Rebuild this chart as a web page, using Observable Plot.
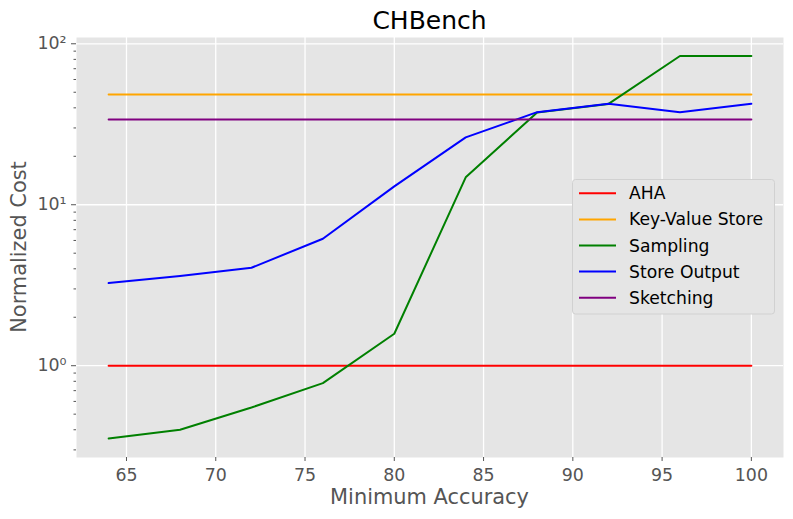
<!DOCTYPE html>
<html>
<head>
<meta charset="utf-8">
<script src="https://cdn.jsdelivr.net/npm/d3@7"></script>
<script src="https://cdn.jsdelivr.net/npm/@observablehq/plot@0.6"></script>
<style>
  html, body { margin: 0; padding: 0; background: white; }
  svg { display: block; }
</style>
</head>
<body>
<div id="chart"></div>
<script>
// ---- data ----
const accuracy = [64, 68, 72, 76, 80, 84, 88, 92, 96, 100];
const aha = [1, 1, 1, 1, 1, 1, 1, 1, 1, 1];
const keyValueStore = [48.4, 48.4, 48.4, 48.4, 48.4, 48.4, 48.4, 48.4, 48.4, 48.4];
const sampling = [0.353, 0.40, 0.55, 0.78, 1.58, 14.8, 37.4, 42.3, 84, 84];
const storeOutput = [3.26, 3.61, 4.06, 6.15, 13.0, 26.2, 37.6, 42.4, 37.6, 42.4];
const sketching = [33.9, 33.9, 33.9, 33.9, 33.9, 33.9, 33.9, 33.9, 33.9, 33.9];

const seriesNames = ["AHA", "Key-Value Store", "Sampling", "Store Output", "Sketching"];
const seriesColors = ["#FF0000", "#FFA500", "#008000", "#0000FF", "#800080"];
const seriesValues = [aha, keyValueStore, sampling, storeOutput, sketching];

const xTicks = [65, 70, 75, 80, 85, 90, 95, 100];
const yMajorTicks = [1, 10, 100];
const yMinorTicks = [0.3, 0.4, 0.5, 0.6, 0.7, 0.8, 0.9, 2, 3, 4, 5, 6, 7, 8, 9, 20, 30, 40, 50, 60, 70, 80, 90];

const titleText = "CHBench";
const xLabel = "Minimum Accuracy";
const yLabel = "Normalized Cost";

// ---- build table ----
const rows = [];
seriesNames.forEach((name, i) => {
  accuracy.forEach((a, j) => rows.push({series: name, accuracy: a, cost: seriesValues[i][j]}));
});

const sup = {"0": "\u2070", "1": "\u00B9", "2": "\u00B2", "3": "\u00B3", "-": "\u207B"};
const fmtPow = d => "10" + String(Math.round(Math.log10(d))).split("").map(c => sup[c]).join("");

const W = 793, H = 519;
const mL = 76, mR = 10, mT = 37, mB = 62;
const tickColor = "#555555";
const tickFont = 17.4;

const svg = Plot.plot({
  width: W,
  height: H,
  marginLeft: mL,
  marginRight: mR,
  marginTop: mT,
  marginBottom: mB,
  style: {fontFamily: "DejaVu Sans", background: "white", overflow: "visible"},
  x: {domain: [62.2, 101.8]},
  y: {type: "log", domain: [0.269, 109.4]},
  color: {domain: seriesNames, range: seriesColors},
  marks: [
    Plot.frame({fill: "#E5E5E5", stroke: "none"}),
    Plot.gridX(xTicks, {stroke: "white", strokeOpacity: 1, strokeWidth: 1.3}),
    Plot.gridY(yMajorTicks, {stroke: "white", strokeOpacity: 1, strokeWidth: 1.3}),
    Plot.axisX(xTicks, {tickSize: 4, tickPadding: 7, fontSize: tickFont, stroke: tickColor, fill: tickColor, label: null, tickFormat: d => String(d)}),
    Plot.axisY(yMajorTicks, {tickSize: 5, tickPadding: 5, fontSize: tickFont, stroke: tickColor, fill: tickColor, label: null, tickFormat: fmtPow}),
    Plot.axisY(yMinorTicks, {tickSize: 2.5, stroke: tickColor, label: null, tickFormat: () => ""}),
    Plot.line(rows, {x: "accuracy", y: "cost", z: "series", stroke: "series", strokeWidth: 2})
  ]
});

document.getElementById("chart").appendChild(svg);

const s = d3.select(svg);
const plotCx = mL + (W - mL - mR) / 2;
const plotCy = mT + (H - mT - mB) / 2;

// title
s.append("text")
  .attr("x", plotCx).attr("y", 29)
  .attr("text-anchor", "middle")
  .attr("font-family", "DejaVu Sans")
  .attr("font-size", 25)
  .attr("fill", "#000")
  .text(titleText);

// x label
s.append("text")
  .attr("x", plotCx).attr("y", 504)
  .attr("text-anchor", "middle")
  .attr("font-family", "DejaVu Sans")
  .attr("font-size", 20.9)
  .attr("fill", tickColor)
  .text(xLabel);

// y label
s.append("text")
  .attr("transform", `translate(26,${plotCy}) rotate(-90)`)
  .attr("text-anchor", "middle")
  .attr("font-family", "DejaVu Sans")
  .attr("font-size", 20.9)
  .attr("fill", tickColor)
  .text(yLabel);

// legend
const lg = s.append("g");
lg.append("rect")
  .attr("x", 572.5).attr("y", 179.5)
  .attr("width", 202).attr("height", 134.5)
  .attr("rx", 3).attr("ry", 3)
  .attr("fill", "#E5E5E5")
  .attr("stroke", "#D1D1D1")
  .attr("stroke-width", 1);
seriesNames.forEach((name, i) => {
  const y = 193.3 + i * 26.1;
  lg.append("line")
    .attr("x1", 579).attr("x2", 616)
    .attr("y1", y).attr("y2", y)
    .attr("stroke", seriesColors[i])
    .attr("stroke-width", 2);
  lg.append("text")
    .attr("x", 629).attr("y", y)
    .attr("dy", "0.35em")
    .attr("text-anchor", "start")
    .attr("font-family", "DejaVu Sans")
    .attr("font-size", 17.2)
    .attr("fill", "#000")
    .text(name);
});
</script>
</body>
</html>
